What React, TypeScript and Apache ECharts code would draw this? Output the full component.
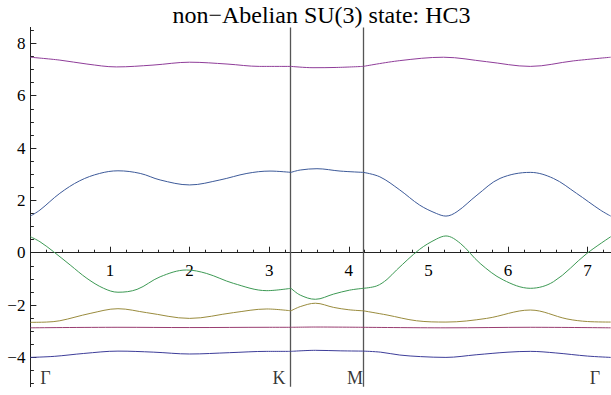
import React, { useEffect, useRef } from 'react';
import * as echarts from 'echarts';

// High-symmetry points along the path
const K_POS = 3.274;
const M_POS = 4.182;
const X_END = 7.29;
const Y_MIN = -5.12;
const Y_MAX = 8.61;

const TITLE = 'non\u2212Abelian SU(3) state: HC3';

const xMajorTicks = [1, 2, 3, 4, 5, 6, 7];
const xMinorTicks = [
  0.2, 0.4, 0.6, 0.8, 1.2, 1.4, 1.6, 1.8, 2.2, 2.4, 2.6, 2.8, 3.2, 3.4, 3.6, 3.8,
  4.2, 4.4, 4.6, 4.8, 5.2, 5.4, 5.6, 5.8, 6.2, 6.4, 6.6, 6.8, 7.2,
];
const yMajorTicks = [-4, -2, 0, 2, 4, 6, 8];
const yMinorTicks = [
  -5, -4.5, -3.5, -3, -2.5, -1.5, -1, -0.5, 0.5, 1, 1.5, 2.5, 3, 3.5, 4.5, 5, 5.5,
  6.5, 7, 7.5, 8.5,
];

// Point labels (x, y, name)
const pointLabels: [number, number, string][] = [
  [0.188, -4.8, '\u0393'],
  [3.123, -4.8, 'K'],
  [4.078, -4.8, 'M'],
  [7.093, -4.8, '\u0393'],
];

// Bands
const band1: number[][] = [
  [0, -4.0], [0.3, -3.96], [0.67, -3.85], [1.1, -3.76], [1.55, -3.8], [2.0, -3.87],
  [2.5, -3.82], [2.97, -3.77], [3.274, -3.77], [3.58, -3.73], [3.9, -3.75], [4.182, -3.76],
  [4.4, -3.8], [4.64, -3.91], [4.9, -3.97], [5.22, -4.0], [5.6, -3.9], [6.0, -3.8],
  [6.28, -3.77], [6.6, -3.83], [7.0, -3.95], [7.29, -4.0],
];
const band2: number[][] = [
  [0, -2.87], [1.1, -2.85], [2.0, -2.86], [3.0, -2.85], [3.274, -2.85], [3.6, -2.84],
  [4.182, -2.85], [5.22, -2.87], [6.28, -2.85], [7.29, -2.87],
];
const band3: number[][] = [
  [0, -2.66], [0.2, -2.65], [0.37, -2.6], [0.75, -2.32], [1.1, -2.14], [1.46, -2.29],
  [2.0, -2.51], [2.55, -2.29], [2.97, -2.15], [3.274, -2.22], [3.39, -2.06], [3.58, -1.93],
  [3.81, -2.09], [4.0, -2.18], [4.182, -2.22], [4.48, -2.38], [4.85, -2.6], [5.22, -2.65],
  [5.73, -2.51], [6.28, -2.19], [6.74, -2.53], [7.0, -2.63], [7.29, -2.65],
];
const band4: number[][] = [
  [0, 0.61], [0.12, 0.42], [0.29, 0.04], [0.5, -0.47], [0.71, -0.98], [0.92, -1.36],
  [1.1, -1.51], [1.34, -1.4], [1.63, -0.92], [1.96, -0.66], [2.21, -0.79], [2.55, -1.17],
  [2.97, -1.45], [3.274, -1.36], [3.39, -1.62], [3.58, -1.78], [3.81, -1.58], [4.01, -1.43],
  [4.182, -1.36], [4.35, -1.27], [4.48, -1.02], [4.6, -0.66], [4.89, 0.13], [5.1, 0.52],
  [5.22, 0.64], [5.4, 0.36], [5.65, -0.41], [5.94, -1.04], [6.28, -1.36], [6.57, -1.11],
  [6.99, -0.03], [7.29, 0.61],
];
const band5: number[][] = [
  [0, 1.4], [0.12, 1.63], [0.37, 2.27], [0.62, 2.75], [0.87, 3.03], [1.1, 3.13],
  [1.38, 3.03], [1.63, 2.78], [2.0, 2.59], [2.38, 2.78], [2.72, 3.03], [3.01, 3.12],
  [3.274, 3.07], [3.39, 3.16], [3.6, 3.21], [3.89, 3.12], [4.182, 3.07], [4.39, 2.9],
  [4.64, 2.4], [4.89, 1.82], [5.1, 1.5], [5.22, 1.4], [5.36, 1.57], [5.61, 2.2],
  [5.9, 2.84], [6.28, 3.07], [6.57, 2.84], [6.86, 2.27], [7.16, 1.63], [7.29, 1.4],
];
const band6: number[][] = [
  [0, 7.47], [0.37, 7.36], [0.71, 7.21], [1.08, 7.1], [1.54, 7.17], [2.0, 7.28],
  [2.47, 7.21], [2.88, 7.12], [3.274, 7.12], [3.55, 7.07], [3.85, 7.08], [4.182, 7.12],
  [4.64, 7.34], [5.19, 7.47], [5.73, 7.3], [6.28, 7.12], [6.82, 7.33], [7.29, 7.47],
];

const bands = [band1, band2, band3, band4, band5, band6];
const bandColors = ['#3d3d99', '#993d71', '#998b3d', '#3d9954', '#3d5a99', '#8f3d99'];

const FONT = 'Liberation Serif';

function splitSegments(band: number[][]): number[][][] {
  const eps = 1e-9;
  return [
    band.filter((p) => p[0] <= K_POS + eps),
    band.filter((p) => p[0] >= K_POS - eps && p[0] <= M_POS + eps),
    band.filter((p) => p[0] >= M_POS - eps),
  ];
}

const fmtMinus = (v: number) => (v < 0 ? '\u2212' + Math.abs(v) : String(v));

// plot geometry (pixels)
const G_LEFT = 30.4;
const G_TOP = 27.4;
const G_WIDTH = 580.3;
const G_HEIGHT = 359.3;
// height of the upper (y >= 0) part of the plot, so its bottom edge is y = 0
const G_UPPER_HEIGHT = (G_HEIGHT * Y_MAX) / (Y_MAX - Y_MIN);

export default function App() {
  const ref = useRef<HTMLDivElement>(null);
  useEffect(() => {
    if (!ref.current) return;
    const chart = echarts.init(ref.current, null, { renderer: 'svg' });
    const lineSeries: any[] = [];
    bands.forEach((band, bi) => {
      splitSegments(band).forEach((seg) => {
        lineSeries.push({
          type: 'line',
          xAxisIndex: 0,
          yAxisIndex: 0,
          data: seg,
          smooth: 0.35,
          symbol: 'none',
          lineStyle: { color: bandColors[bi], width: 1 },
          silent: true,
          z: 3,
        });
      });
    });
    lineSeries[0].markLine = {
      silent: true,
      symbol: ['none', 'none'],
      label: { show: false },
      lineStyle: { color: '#555', width: 1.3, type: 'solid' },
      emphasis: { disabled: true },
      data: [{ xAxis: K_POS }, { xAxis: M_POS }],
      z: 2,
    };
    const axisLineStyle = { color: '#222', width: 1 };
    chart.setOption({
      animation: false,
      backgroundColor: '#ffffff',
      textStyle: { fontFamily: FONT },
      grid: [
        {
          left: G_LEFT,
          top: G_TOP,
          width: G_WIDTH,
          height: G_HEIGHT,
          containLabel: false,
          outerBoundsMode: 'none',
        },
        {
          left: G_LEFT,
          top: G_TOP,
          width: G_WIDTH,
          height: G_UPPER_HEIGHT,
          containLabel: false,
          outerBoundsMode: 'none',
        },
      ],
      graphic: [
        {
          type: 'text',
          x: 321.5,
          y: 15.2,
          style: {
            text: TITLE,
            fill: '#000',
            fontSize: 24,
            fontFamily: FONT,
            align: 'center',
            verticalAlign: 'middle',
          },
        },
      ],
      xAxis: [
        {
          gridIndex: 0,
          type: 'value',
          min: 0,
          max: X_END,
          show: false,
        },
        {
          gridIndex: 1,
          type: 'value',
          min: 0,
          max: X_END,
          position: 'bottom',
          axisLine: { show: true, onZero: false, lineStyle: axisLineStyle },
          axisTick: { show: true, inside: true, length: 6, customValues: xMajorTicks, lineStyle: axisLineStyle },
          axisLabel: {
            show: true,
            customValues: xMajorTicks,
            margin: 9,
            fontSize: 17,
            fontFamily: FONT,
            color: '#000',
            formatter: (v: number) => fmtMinus(v),
          },
          splitLine: { show: false },
        },
        {
          gridIndex: 1,
          type: 'value',
          min: 0,
          max: X_END,
          position: 'bottom',
          axisLine: { show: false, onZero: false },
          axisTick: { show: true, inside: true, length: 3, customValues: xMinorTicks, lineStyle: axisLineStyle },
          axisLabel: { show: false },
          splitLine: { show: false },
        },
      ],
      yAxis: [
        {
          gridIndex: 0,
          type: 'value',
          min: Y_MIN,
          max: Y_MAX,
          position: 'left',
          axisLine: { show: true, onZero: false, lineStyle: axisLineStyle },
          axisTick: { show: true, inside: true, length: 6, customValues: yMajorTicks, lineStyle: axisLineStyle },
          axisLabel: {
            show: true,
            customValues: yMajorTicks,
            margin: 5,
            fontSize: 17,
            fontFamily: FONT,
            color: '#000',
            formatter: (v: number) => fmtMinus(v),
          },
          splitLine: { show: false },
        },
        {
          gridIndex: 0,
          type: 'value',
          min: Y_MIN,
          max: Y_MAX,
          position: 'left',
          axisLine: { show: false, onZero: false },
          axisTick: { show: true, inside: true, length: 3.5, customValues: yMinorTicks, lineStyle: axisLineStyle },
          axisLabel: { show: false },
          splitLine: { show: false },
        },
        {
          gridIndex: 1,
          type: 'value',
          min: 0,
          max: Y_MAX,
          show: false,
        },
      ],
      series: [
        ...lineSeries,
        {
          type: 'scatter',
          xAxisIndex: 0,
          yAxisIndex: 0,
          data: pointLabels,
          symbolSize: 1,
          itemStyle: { color: 'rgba(0,0,0,0)' },
          silent: true,
          label: {
            show: true,
            position: 'inside',
            formatter: (p: any) => p.data[2],
            fontSize: 18,
            fontFamily: FONT,
            color: '#000',
          },
          z: 5,
        },
      ],
    });
    return () => chart.dispose();
  }, []);
  return (
    <div
      ref={ref}
      style={{ position: 'fixed', left: 0, top: 0, width: 611, height: 395, background: '#fff' }}
    />
  );
}
